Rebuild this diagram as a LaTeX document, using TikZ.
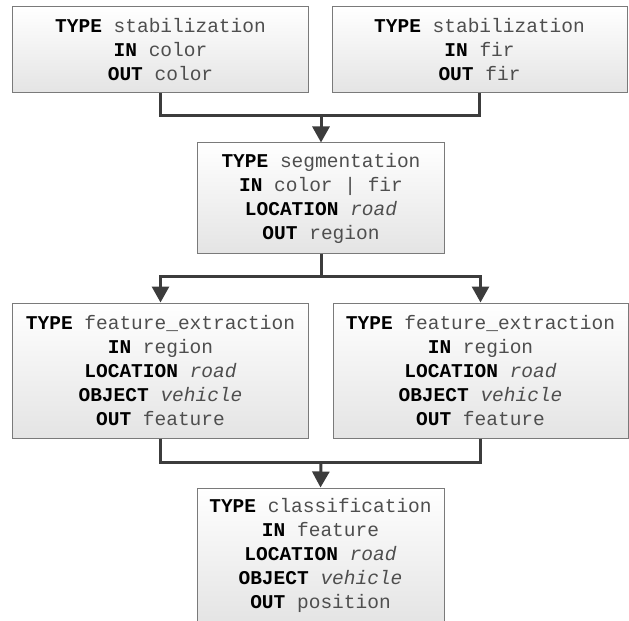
\documentclass[tikz,border=0pt]{standalone}
\usepackage{fontspec}
\setmonofont{Liberation Mono}
\usetikzlibrary{arrows.meta}
\definecolor{linegray}{HTML}{3C3C3C}
\definecolor{boxborder}{HTML}{7A7A7A}
\definecolor{boxbottom}{HTML}{E4E4E4}
\definecolor{valgray}{HTML}{4E4E4E}
\newcommand{\kw}[1]{\textbf{#1}}
\newcommand{\vl}[1]{\textcolor{valgray}{#1}}
\newcommand{\vi}[1]{\textcolor{valgray}{\textit{#1}}}
\tikzset{
  stagebox/.style={rectangle, draw=boxborder, line width=1bp,
    top color=white, bottom color=boxbottom,
    align=center, inner sep=0pt,
    font=\ttfamily\fontsize{19.5bp}{24bp}\selectfont},
  widebox/.style={stagebox, minimum width=295bp},
  narrowbox/.style={stagebox, minimum width=247bp},
  flow/.style={draw=linegray, line width=3bp, miter limit=10},
  flowarrow/.style={flow, -{Triangle[length=16bp, width=17bp]}}
}
\begin{document}
\begin{tikzpicture}[x=1bp, y=-1bp]
  \useasboundingbox (0,0) rectangle (629,621);
  \clip (0,0) rectangle (629,621);

  % first row: two stabilization stages
  \node[widebox, minimum height=86bp] (stabc) at (160.5,50)
    {\kw{TYPE} \vl{stabilization}\\ \kw{IN} \vl{color}\\ \kw{OUT} \vl{color}};
  \node[widebox, minimum height=86bp] (stabf) at (479.5,50)
    {\kw{TYPE} \vl{stabilization}\\ \kw{IN} \vl{fir}\\ \kw{OUT} \vl{fir}};

  % segmentation
  \node[narrowbox, minimum height=110bp] (seg) at (321,198)
    {\kw{TYPE} \vl{segmentation}\\ \kw{IN} \vl{color | fir}\\
     \kw{LOCATION} \vi{road}\\ \kw{OUT} \vl{region}};

  % two feature extraction stages
  \node[widebox, minimum height=135bp] (featl) at (160.5,370.5)
    {\kw{TYPE} \vl{feature\_extraction}\\ \kw{IN} \vl{region}\\
     \kw{LOCATION} \vi{road}\\ \kw{OBJECT} \vi{vehicle}\\ \kw{OUT} \vl{feature}};
  \node[widebox, minimum height=135bp] (featr) at (480.5,370.5)
    {\kw{TYPE} \vl{feature\_extraction}\\ \kw{IN} \vl{region}\\
     \kw{LOCATION} \vi{road}\\ \kw{OBJECT} \vi{vehicle}\\ \kw{OUT} \vl{feature}};

  % classification
  \node[narrowbox, minimum height=135bp] (cls) at (320.5,555.5)
    {\kw{TYPE} \vl{classification}\\ \kw{IN} \vl{feature}\\
     \kw{LOCATION} \vi{road}\\ \kw{OBJECT} \vi{vehicle}\\ \kw{OUT} \vl{position}};

  % junction points of the connectors
  \coordinate (j1) at (321,116);
  \coordinate (j2) at (321,276);
  \coordinate (j3) at (321,462);

  % merge of the stabilized streams
  \draw[flow] (stabc.south) |- (j1);
  \draw[flow] (stabf.south) |- (j1);
  \draw[flowarrow] (j1) -- (seg.north);

  % split to the feature extractors
  \draw[flow] (seg.south) -- (j2);
  \draw[flowarrow] (j2) -| (featl.north);
  \draw[flowarrow] (j2) -| (featr.north);

  % merge of the features
  \draw[flow] (featl.south) |- (j3);
  \draw[flow] (featr.south) |- (j3);
  \draw[flowarrow] (j3) -- (cls.north);
\end{tikzpicture}
\end{document}
